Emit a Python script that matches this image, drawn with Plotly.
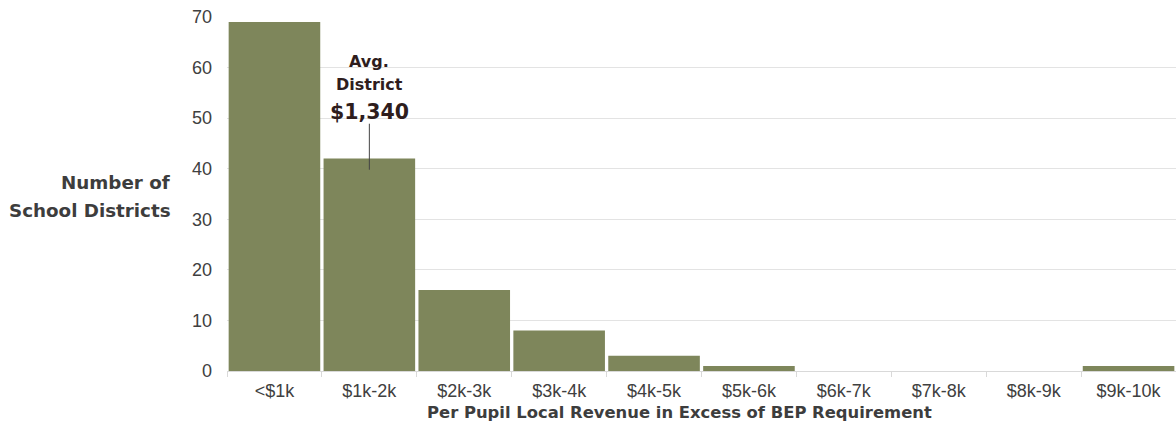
import plotly.graph_objects as go

categories = ["<$1k", "$1k-2k", "$2k-3k", "$3k-4k", "$4k-5k", "$5k-6k", "$6k-7k", "$7k-8k", "$8k-9k", "$9k-10k"]
districts = [69, 42, 16, 8, 3, 1, 0, 0, 0, 1]
y_ticks = [0, 10, 20, 30, 40, 50, 60, 70]
avg_label_category = "$1k-2k"
avg_value_text = "$1,340"

BAR = "#7e865b"
BOLD_FONT = "'DejaVu Sans', sans-serif"
TICK_FONT = "'Liberation Sans', Arial, sans-serif"
DARK = "#2e1d1d"
TITLE_C = "#3d3d3d"

fig = go.Figure()
fig.add_trace(go.Bar(x=categories, y=districts, marker=dict(color=BAR, line=dict(width=0)),
                     hoverinfo="x+y"))

fig.update_layout(
    width=1176, height=428,
    margin=dict(l=227, r=0, t=17, b=57),
    paper_bgcolor="white", plot_bgcolor="white",
    bargap=0.035,
    showlegend=False,
    xaxis=dict(
        type="category",
        tickfont=dict(family=TICK_FONT, size=18, color="#404040"),
        ticks="outside", tickson="boundaries", ticklen=5, tickcolor="#d9d9d9",
        showline=True, linecolor="#d9d9d9", linewidth=1,
        showgrid=False,
        ticklabelstandoff=3,
    ),
    yaxis=dict(
        range=[0, 70], tickvals=y_ticks,
        tickfont=dict(family=TICK_FONT, size=18, color="#404040"),
        showgrid=True, gridcolor="#e3e3e3", gridwidth=1,
        zeroline=False, showline=False, ticks="",
        ticklabelstandoff=14,
    ),
)

# Y-axis title (horizontal, two lines)
fig.add_annotation(xref="paper", yref="y", x=-0.0569, y=37.2, xanchor="right", yanchor="middle",
                   text="Number of", showarrow=False,
                   font=dict(family=BOLD_FONT, size=18.3, color=TITLE_C, weight="bold"))
fig.add_annotation(xref="paper", yref="y", x=-0.0569, y=31.8, xanchor="right", yanchor="middle",
                   text="School Districts", showarrow=False,
                   font=dict(family=BOLD_FONT, size=18.3, color=TITLE_C, weight="bold"))
# X-axis title
fig.add_annotation(xref="paper", yref="paper", x=0.477, y=-0.116, xanchor="center", yanchor="middle",
                   text="Per Pupil Local Revenue in Excess of BEP Requirement", showarrow=False,
                   font=dict(family=BOLD_FONT, size=16.4, color=TITLE_C, weight="bold"))

# Average annotation
fig.add_shape(type="line", xref="x", yref="y", x0=avg_label_category, x1=avg_label_category,
              y0=39.8, y1=48.9, line=dict(color="#444", width=1))
fig.add_annotation(xref="x", yref="y", x=avg_label_category, y=61.2, text="Avg.", showarrow=False,
                   yanchor="middle", font=dict(family=BOLD_FONT, size=16, color=DARK, weight="bold"))
fig.add_annotation(xref="x", yref="y", x=avg_label_category, y=56.6, text="District", showarrow=False,
                   yanchor="middle", font=dict(family=BOLD_FONT, size=16, color=DARK, weight="bold"))
fig.add_annotation(xref="x", yref="y", x=avg_label_category, y=51.2, text=avg_value_text, showarrow=False,
                   yanchor="middle", font=dict(family=BOLD_FONT, size=20.5, color=DARK, weight="bold"))

fig.write_html("out.html", config={"displayModeBar": False},
               post_script="document.body.style.margin='0px';")
